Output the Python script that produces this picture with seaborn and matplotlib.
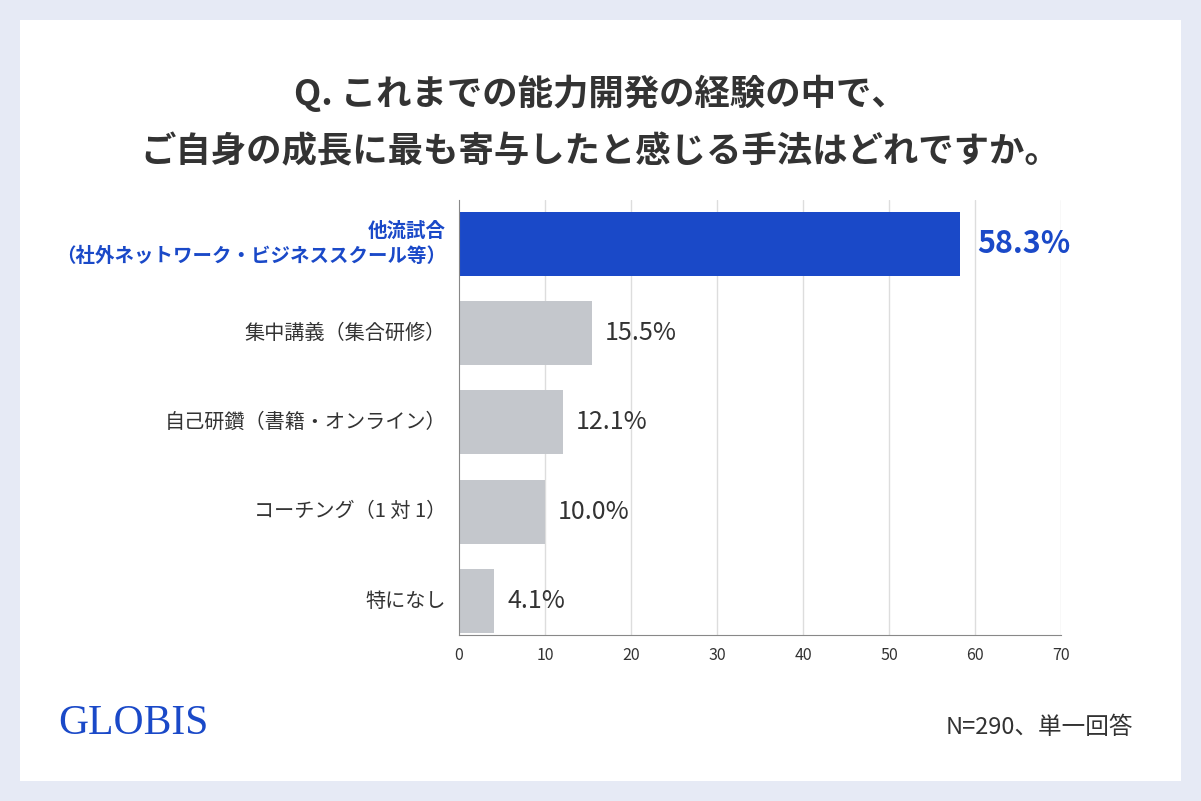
import matplotlib
matplotlib.use("Agg")
import matplotlib.pyplot as plt
import seaborn as sns
from matplotlib.patches import Rectangle

categories = ["他流試合\n（社外ネットワーク・ビジネススクール等）", "集中講義（集合研修）",
              "自己研鑽（書籍・オンライン）", "コーチング（1 対 1）", "特になし"]
values = [58.3, 15.5, 12.1, 10.0, 4.1]
ticks = [0, 10, 20, 30, 40, 50, 60, 70]

blue = "#1A49C8"
grey = "#C4C7CC"

sns.set_style("white")
plt.rcParams['font.family'] = ['Noto Sans CJK JP', 'DejaVu Sans']

fig = plt.figure(figsize=(12.01, 8.01), dpi=100)
fig.patch.set_facecolor("#E6EAF5")
fig.patches.append(Rectangle((20/1201, 20/801), 1161/1201, 761/801, transform=fig.transFigure,
                             facecolor="white", edgecolor="none", zorder=-5))

ax = fig.add_axes([459/1201, 1-635/801, 602/1201, 435/801])
ax.set_zorder(5)
ax.set_facecolor("none")
colors = [blue] + [grey]*4
sns.barplot(x=values, y=list(range(5)), orient="h", palette=colors, hue=list(range(5)),
            legend=False, width=0.715, ax=ax, zorder=3, saturation=1, linewidth=0)
ax.set_xlim(0, 70)
ax.set_ylim(4.38, -0.49)
ax.set_xticks(ticks)
ax.set_xticklabels([str(t) for t in ticks], fontsize=11.5, color="#333333")
ax.set_yticks(range(5))
ax.set_yticklabels([])
ax.tick_params(axis="y", length=0)
ax.tick_params(axis="x", length=5, color="#999999")
for t in ticks[1:]:
    ax.axvline(t, color="#DDDDDD", lw=1, zorder=1)
for s in ["top", "right"]:
    ax.spines[s].set_visible(False)
ax.spines["left"].set_color("#888888")
ax.spines["bottom"].set_color("#888888")
ax.spines["left"].set_zorder(6)
ax.set_xlabel("")
ax.set_ylabel("")

for i, (c, v) in enumerate(zip(categories, values)):
    if i == 0:
        ax.text(-1.5, i, c, ha="right", va="center", fontsize=14, color=blue,
                fontweight="bold", linespacing=1.35)
        ax.text(v + 2, i, f"{v:.1f}%", ha="left", va="center", fontsize=22,
                color=blue, fontweight="bold")
    else:
        ax.text(-1.5, i, c, ha="right", va="center", fontsize=14.5, color="#333333")
        ax.text(v + 1.5, i, f"{v:.1f}%", ha="left", va="center", fontsize=18, color="#333333")

fig.text(0.5, 1-93/801, "Q. これまでの能力開発の経験の中で、", ha="center", va="center",
         fontsize=25.5, fontweight="bold", color="#333333")
fig.text(0.5, 1-152/801, "ご自身の成長に最も寄与したと感じる手法はどれですか。", ha="center", va="center",
         fontsize=25.5, fontweight="bold", color="#333333")
fig.text(58/1201, 1-724/801, "GLOBIS", ha="left", va="center", fontsize=30,
         family="Liberation Serif", color=blue)
fig.text(1133/1201, 1-727/801, "N=290、単一回答", ha="right", va="center", fontsize=17, color="#333333")

fig.savefig("out.png", dpi=100, facecolor=fig.get_facecolor())
